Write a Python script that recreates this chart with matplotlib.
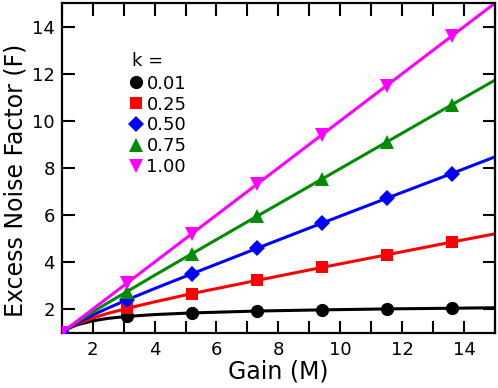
import matplotlib
matplotlib.use("Agg")
import matplotlib.pyplot as plt
from matplotlib.ticker import MultipleLocator

plt.rcParams['font.family'] = ['DejaVu Sans']

# Data
k_labels = ["0.01", "0.25", "0.50", "0.75", "1.00"]
gain_pts = [1.0, 3.1, 5.2, 7.3, 9.4, 11.5, 13.6]
f_k001 = [1.0, 1.69, 1.84, 1.92, 1.97, 2.01, 2.04]
f_k025 = [1.0, 2.03, 2.66, 3.22, 3.77, 4.31, 4.85]
f_k050 = [1.0, 2.39, 3.50, 4.58, 5.65, 6.71, 7.76]
f_k075 = [1.0, 2.74, 4.35, 5.94, 7.52, 9.10, 10.68]
f_k100 = [1.0, 3.10, 5.20, 7.30, 9.40, 11.50, 13.60]

gain_line = [1.0, 1.25, 1.5, 2.0, 2.5, 3.1, 4.0, 5.2, 7.3, 9.4, 11.5, 13.6, 15.0]
line_k001 = [1.0, 1.20, 1.335, 1.505, 1.61, 1.69, 1.77, 1.84, 1.92, 1.97, 2.01, 2.04, 2.06]
line_k025 = [1.0, 1.21, 1.375, 1.625, 1.825, 2.03, 2.31, 2.66, 3.22, 3.77, 4.31, 4.85, 5.20]
line_k050 = [1.0, 1.225, 1.417, 1.75, 2.05, 2.39, 2.875, 3.50, 4.58, 5.65, 6.71, 7.76, 8.47]
line_k075 = [1.0, 1.24, 1.458, 1.875, 2.275, 2.74, 3.44, 4.35, 5.94, 7.52, 9.10, 10.68, 11.73]
line_k100 = [1.0, 1.25, 1.5, 2.0, 2.5, 3.1, 4.0, 5.2, 7.3, 9.4, 11.5, 13.6, 15.0]

x_ticks = [2, 4, 6, 8, 10, 12, 14]
y_ticks = [2, 4, 6, 8, 10, 12, 14]

pts = [f_k001, f_k025, f_k050, f_k075, f_k100]
lines = [line_k001, line_k025, line_k050, line_k075, line_k100]
colors = ["#000000", "#ff0000", "#0000ff", "#008c00", "#ff00ff"]
markers = ["o", "s", "D", "^", "v"]
msizes = [9.5, 8.5, 8.0, 9.5, 9.5]

fig = plt.figure(figsize=(4.98, 3.88), dpi=100)
ax = fig.add_axes([0.124, 0.1425, 0.87, 0.8495])

for lab, p, l, c, m, s in zip(k_labels, pts, lines, colors, markers, msizes):
    ax.plot(gain_line, l, color=c, lw=2.2, zorder=2, solid_capstyle='butt')
    ax.plot(gain_pts, p, linestyle='none', marker=m, ms=s, color=c,
            markeredgewidth=0, zorder=3, label=lab)

ax.set_xlim(1, 15)
ax.set_ylim(1, 15)
ax.set_xticks(x_ticks)
ax.set_yticks(y_ticks)
ax.xaxis.set_minor_locator(MultipleLocator(1))

ax.tick_params(which='both', direction='in', top=True, right=True,
               length=9, width=1.5, labelsize=13, pad=5)
ax.tick_params(axis='x', which='both', pad=6)
for sp in ax.spines.values():
    sp.set_linewidth(1.6)

ax.set_xlabel("Gain (M)", fontsize=17)
ax.xaxis.set_label_coords(0.5, -0.08)
ax.set_ylabel("Excess Noise Factor (F)", fontsize=17)
ax.yaxis.set_label_coords(-0.079, 0.463)

ax.text(0.162, 0.824, "k =", transform=ax.transAxes, fontsize=13,
        ha='left', va='center')
leg = ax.legend(loc='upper left', bbox_to_anchor=(0.160, 0.783), frameon=False,
                fontsize=13, handlelength=0.6,
                handletextpad=0.25, labelspacing=0.16, borderaxespad=0,
                borderpad=0, numpoints=1)

fig.savefig("out.png", dpi=100)
